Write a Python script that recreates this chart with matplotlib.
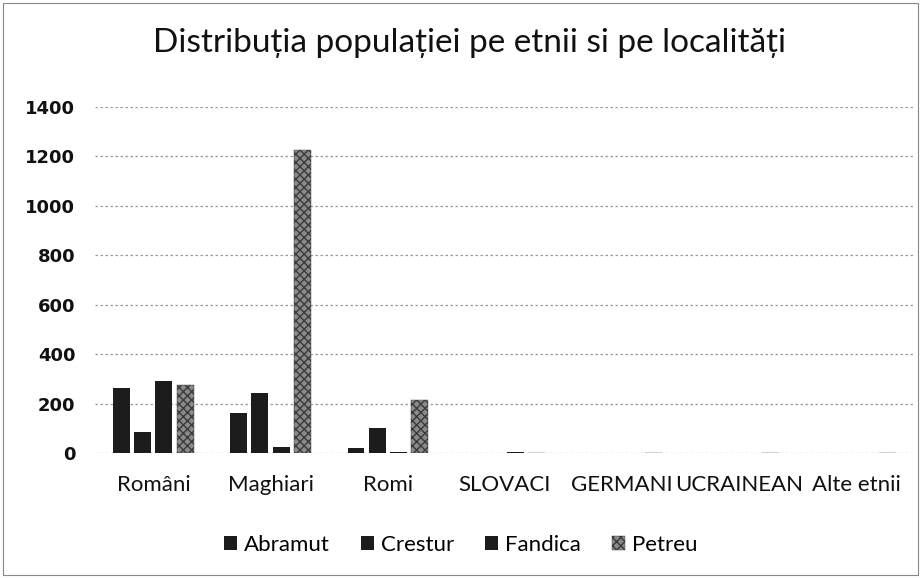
import matplotlib
matplotlib.use("Agg")
import matplotlib.pyplot as plt
import numpy as np
from matplotlib.patches import Rectangle

plt.rcParams['font.family'] = ['Lato', 'DejaVu Sans']

categories = ["Români", "Maghiari", "Romi", "SLOVACI", "GERMANI", "UCRAINEAN", "Alte etnii"]
series = ["Abramut", "Crestur", "Fandica", "Petreu"]
abramut = [263, 162, 20, 0, 0, 0, 0]
crestur = [85, 243, 100, 0, 0, 0, 0]
fandica = [291, 25, 3, 4, 0, 0, 0]
petreu = [275, 1225, 215, 0, 0, 0, 0]
yticks = [0, 200, 400, 600, 800, 1000, 1200, 1400]
title = "Distribuția populației pe etnii si pe localități"

values = [abramut, crestur, fandica, petreu]
colors = ["#1c1c1c", "#1c1c1c", "#1c1c1c", "#8a8a8a"]
hatches = [None, None, None, "xxxx"]

fig = plt.figure(figsize=(9.21, 5.78), dpi=100)
ax = fig.add_axes([0.103, 0.216, 0.89, 0.599])

x = np.arange(len(categories))
step = 0.18
width = 0.145
for i, (name, vals) in enumerate(zip(series, values)):
    off = (i - 1.5) * step
    ax.bar(x + off, vals, width=width, color=colors[i], hatch=hatches[i],
           edgecolor="#3a3a3a" if hatches[i] else colors[i],
           linewidth=0.3 if hatches[i] else 0,
           label=name, zorder=3)

ax.set_xlim(-0.5, len(categories) - 0.5)
ax.set_ylim(0, 1400)
ax.set_yticks(yticks)
ax.set_yticklabels([str(t) for t in yticks], fontsize=13, fontweight='bold',
                   color="#111111", family='DejaVu Sans')
ax.set_xticks(x)
ax.set_xticklabels(categories, fontsize=16, color="#111111")
ax.tick_params(axis='x', length=0, pad=16)
ax.tick_params(axis='y', length=0, pad=14)
for s in ax.spines.values():
    s.set_visible(False)
ax.yaxis.grid(True, color="#9a9a9a", linestyle=(0, (2, 2)), linewidth=0.9, zorder=0)
ax.set_axisbelow(True)

fig.text(0.51, 0.925, title, ha='center', va='center', fontsize=24, color="#111111")

handles, labels = ax.get_legend_handles_labels()
fig.legend(handles, labels, loc='center', bbox_to_anchor=(0.5, 0.057), ncol=4,
           frameon=False, fontsize=16, handlelength=0.6, handleheight=0.6,
           columnspacing=1.4, handletextpad=0.3)

fig.patches.append(Rectangle((0.003, 0.005), 0.994, 0.99, transform=fig.transFigure,
                             fill=False, edgecolor="#888888", linewidth=0.8))

fig.savefig("out.png", dpi=100)
